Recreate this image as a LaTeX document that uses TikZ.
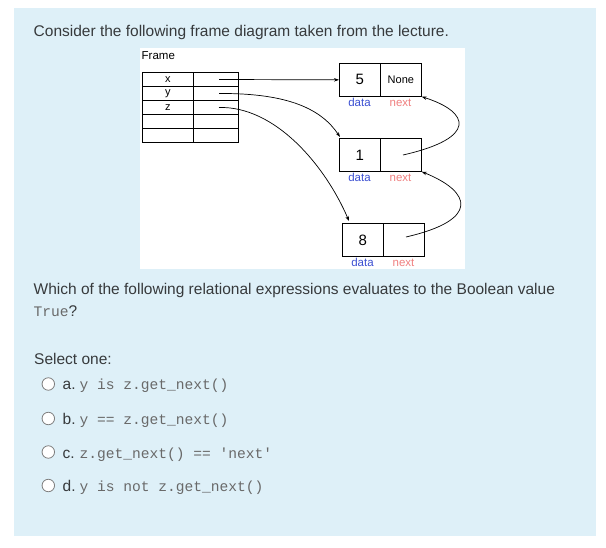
\documentclass[tikz,border=0pt]{standalone}
\usepackage{fontspec}
\setmainfont{Liberation Sans}
\setmonofont{Liberation Mono}
\usetikzlibrary{arrows.meta}
\definecolor{qbg}{RGB}{222,240,248}
\definecolor{txt}{RGB}{55,58,60}
\definecolor{monoc}{RGB}{105,105,105}
\definecolor{datab}{RGB}{60,80,210}
\definecolor{nextp}{RGB}{240,128,128}
\definecolor{radioc}{RGB}{125,125,125}
\begin{document}
\begin{tikzpicture}[x=1pt,y=-1pt,
  cellbox/.style={draw=black, line width=0.7pt, minimum width=41pt, minimum height=33pt, inner sep=0pt, anchor=north west, font=\fontsize{15}{15}\selectfont},
  nonebox/.style={cellbox, font=\fontsize{11}{11}\selectfont},
  fcell/.style={draw=black, line width=0.7pt, inner sep=0pt, anchor=north west, minimum height=14pt, minimum width=51pt, font=\fontsize{11}{11}\selectfont},
  fval/.style={fcell, minimum width=45pt},
  datalbl/.style={font=\fontsize{11.5}{11.5}\selectfont, text=datab, inner sep=0pt},
  nextlbl/.style={font=\fontsize{11.5}{11.5}\selectfont, text=nextp, inner sep=0pt},
  arr/.style={line width=0.7pt, -{Stealth[length=5pt,width=3.5pt]}},
  bodytxt/.style={font=\fontsize{15.5}{18}\selectfont, text=txt, inner sep=0pt, anchor=base west},
  monotxt/.style={font=\ttfamily\fontsize{14.6}{18}\selectfont, text=monoc, inner sep=0pt, anchor=base west},
  radiobtn/.style={circle, draw=radioc, fill=white, line width=0.8pt, minimum size=12.5pt, inner sep=0pt}
]
\useasboundingbox (0,0) rectangle (606,548);
\fill[white] (0,0) rectangle (606,548);
\fill[qbg] (14,8.5) rectangle (596,536);
\fill[white] (140,48) rectangle (465,269);

\node[bodytxt] (title) at (33.5,36.5) {Consider the following frame diagram taken from the lecture.};

% frame table
\node[anchor=west, inner sep=0pt, font=\fontsize{11.5}{11.5}\selectfont] (framelbl) at (141.5,56) {Frame};
\node[fcell] (fx) at (142,72) {x};
\node[fval] (fxv) at (193,72) {};
\node[fcell] (fy) at (142,86) {y};
\node[fval] (fyv) at (193,86) {};
\node[fcell] (fz) at (142,100) {z};
\node[fval] (fzv) at (193,100) {};
\node[fcell] (fa) at (142,114) {};
\node[fval] (fav) at (193,114) {};
\node[fcell] (fb) at (142,128) {};
\node[fval] (fbv) at (193,128) {};

% node 5
\node[cellbox] (n5d) at (339,63) {5};
\node[nonebox] (n5n) at (380,63) {None};
\node[datalbl] (l5d) at (359.5,102.5) {data};
\node[nextlbl] (l5n) at (400.5,102.5) {next};
% node 1
\node[cellbox] (n1d) at (339,138) {1};
\node[cellbox] (n1n) at (380,138) {};
\node[datalbl] (l1d) at (359.5,177.5) {data};
\node[nextlbl] (l1n) at (400.5,177.5) {next};
% node 8
\node[cellbox] (n8d) at (342,223) {8};
\node[cellbox] (n8n) at (383,223) {};
\node[datalbl] (l8d) at (362.5,262.5) {data};
\node[nextlbl] (l8n) at (403.5,262.5) {next};

\coordinate (sx) at (219,79.5);
\coordinate (sy) at (219,93.5);
\coordinate (sz) at (219,107.5);
\coordinate (ty) at (340,137);
\coordinate (tz) at (349,221);
\coordinate (s1) at (403,155);
\coordinate (s8) at (406,237);

\draw[arr] (sx) -- (n5d.west);
\draw[arr] (sy) .. controls (290,93) and (322,110) .. (ty);
\draw[arr] (sz) .. controls (275,106) and (325,165) .. (tz);
\draw[arr] (s1) .. controls (478,138) and (470,112) .. (n5n.south east);
\draw[arr] (s8) .. controls (480,220) and (472,192) .. (n1n.south east);

% question
\node[bodytxt] (q1) at (33.5,295) {Which of the following relational expressions evaluates to the Boolean value};
\node[bodytxt] (q2) at (33.5,316.5) {{\ttfamily\fontsize{14.6}{18}\selectfont\color{monoc}True}?};

\node[bodytxt] (sel) at (34,364.5) {Select one:};

\node[radiobtn] (ra) at (48.3,384) {};
\node[bodytxt] (la) at (62.5,390) {a.};
\node[monotxt] (ta) at (79.3,390) {y is z.get\_next()};

\node[radiobtn] (rb) at (48.3,418.5) {};
\node[bodytxt] (lb) at (62.5,424.5) {b.};
\node[monotxt] (tb) at (79.3,424.5) {y == z.get\_next()};

\node[radiobtn] (rc) at (48.3,452) {};
\node[bodytxt] (lc) at (62.5,458) {c.};
\node[monotxt] (tc) at (79.3,458) {z.get\_next() == \textquotesingle next\textquotesingle};

\node[radiobtn] (rd) at (48.3,485.5) {};
\node[bodytxt] (ld) at (62.5,491.5) {d.};
\node[monotxt] (td) at (79.3,491.5) {y is not z.get\_next()};
\end{tikzpicture}
\end{document}
